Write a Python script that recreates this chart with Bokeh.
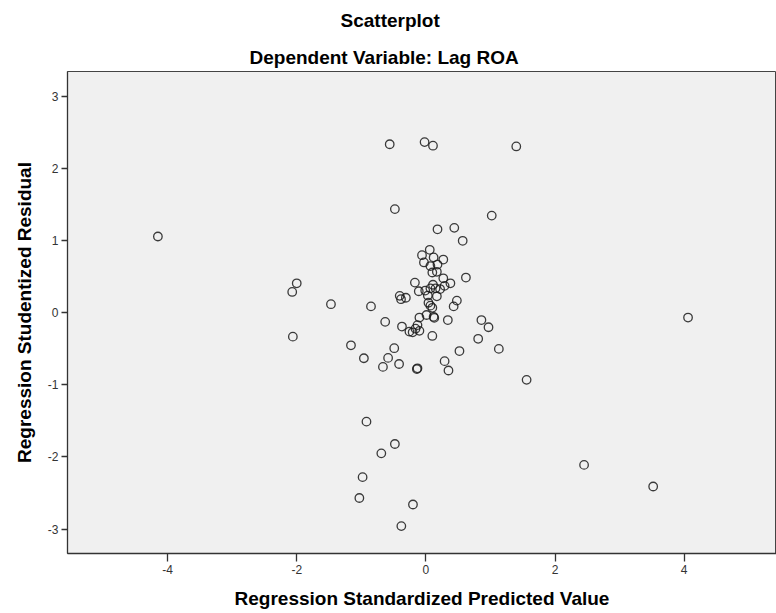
from bokeh.plotting import figure
from bokeh.models import Title, Range1d, FixedTicker, PrintfTickFormatter
from bokeh.embed import file_html
from bokeh.resources import INLINE

# Regression standardized predicted value (x) and studentized residual (y)
pred = [-4.15, -2.00, -2.07, -2.06, -1.47, -1.16, -0.96, -0.85, -0.63, -0.49,
        -0.585, -0.665, -0.415, -0.14, -0.13, -0.405, -0.385, -0.31, -0.37, -0.48,
        -0.56, -0.02, 0.11, 1.40, 1.02, 0.18, 0.44, 0.57, 0.06, -0.06,
        0.12, 0.27, -0.03, 0.07, 0.18, 0.17, 0.10, 0.27, 0.62, -0.17,
        0.38, 0.29, -0.11, -0.01, 0.07, 0.15, 0.22, 0.11, 0.03, 0.17,
        0.48, 0.43, 0.04, 0.07, 0.10, -0.10, 0.01, 0.12, 0.13, 0.34,
        0.86, 0.97, -0.13, -0.16, -0.255, -0.10, -0.205, 0.10, 0.81, 0.52,
        1.13, 0.29, 0.35, 1.56, 4.06, -0.92, -0.48, -0.69, -0.98, -1.03,
        -0.20, -0.38, 2.45, 3.52]
resid = [1.06, 0.41, 0.29, -0.33, 0.12, -0.45, -0.63, 0.09, -0.125, -0.49,
         -0.625, -0.75, -0.71, -0.78, -0.77, 0.236, 0.19, 0.21, -0.19, 1.44,
         2.34, 2.37, 2.32, 2.31, 1.35, 1.16, 1.18, 1.00, 0.875, 0.80,
         0.77, 0.74, 0.70, 0.65, 0.67, 0.57, 0.56, 0.48, 0.49, 0.42,
         0.41, 0.375, 0.30, 0.31, 0.34, 0.34, 0.33, 0.39, 0.24, 0.23,
         0.17, 0.09, 0.14, 0.10, 0.07, -0.065, -0.03, -0.055, -0.07, -0.10,
         -0.10, -0.20, -0.17, -0.22, -0.26, -0.25, -0.27, -0.32, -0.36, -0.53,
         -0.50, -0.67, -0.80, -0.93, -0.065, -1.51, -1.82, -1.95, -2.28, -2.57,
         -2.66, -2.96, -2.11, -2.41]

x_ticks = [-4, -2, 0, 2, 4]
y_ticks = [-3, -2, -1, 0, 1, 2, 3]

title_main = "Scatterplot"
title_sub = "Dependent Variable: Lag ROA"
x_label = "Regression Standardized Predicted Value"
y_label = "Regression Studentized Residual"

FONT = "Liberation Sans"

p = figure(width=776, height=613, output_backend="svg", toolbar_location=None,
           x_range=Range1d(-5.55, 5.43), y_range=Range1d(-3.34, 3.35),
           min_border_left=67, min_border_right=0, min_border_top=71, min_border_bottom=60)

p.background_fill_color = "#f0f0f0"
p.border_fill_color = "white"
p.outline_line_color = "#444444"
p.outline_line_width = 1
p.xgrid.visible = False
p.ygrid.visible = False

p.scatter(pred, resid, marker="circle", size=8.5, fill_color=None,
          line_color="#1a1a1a", line_width=1.3, line_alpha=0.85)

for ax, ticks, lab in ((p.xaxis[0], x_ticks, x_label), (p.yaxis[0], y_ticks, y_label)):
    ax.ticker = FixedTicker(ticks=ticks)
    ax.formatter = PrintfTickFormatter(format="%d")
    ax.minor_tick_line_color = None
    ax.major_tick_in = 0
    ax.axis_line_color = "#333333"
    ax.axis_line_width = 1.3
    ax.major_tick_line_color = "#333333"
    ax.major_tick_line_width = 1.3
    ax.major_label_text_font = FONT
    ax.major_label_text_font_size = "12px"
    ax.major_label_text_color = "#333333"
    ax.axis_label = lab
    ax.axis_label_text_font = FONT
    ax.axis_label_text_font_style = "bold"
    ax.axis_label_text_font_size = "19px"
    ax.axis_label_text_color = "black"

p.xaxis[0].major_tick_out = 8
p.xaxis[0].major_label_standoff = 3
p.xaxis[0].axis_label_standoff = 11
p.yaxis[0].major_tick_out = 6
p.yaxis[0].major_label_standoff = 3
p.yaxis[0].axis_label_standoff = 10

# titles: first added sits nearest the frame
p.add_layout(Title(text=title_sub, align="left", offset=182, standoff=8,
                   text_font=FONT, text_font_style="bold", text_font_size="19px",
                   text_color="black"), "above")
p.add_layout(Title(text=title_main, align="left", offset=273, standoff=15,
                   vertical_align="top",
                   text_font=FONT, text_font_style="bold", text_font_size="19px",
                   text_color="black"), "above")

open("out.html", "w").write(file_html(p, INLINE))
